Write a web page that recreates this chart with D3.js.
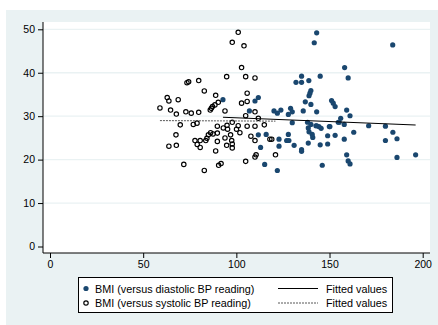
<!DOCTYPE html>
<html><head><meta charset="utf-8">
<script src="https://cdn.jsdelivr.net/npm/d3@7"></script>
<style>body{margin:0;background:#fff}svg{display:block}text{font-family:"Liberation Sans",Arial,sans-serif}</style>
</head><body>
<script>
// Systolic series (open circles)
const sysX = [59,62.9,63.8,64.7,68.8,67.8,69.9,67.6,63.8,67.8,73.5,74.4,79.8,82.8,72.9,75.8,79.8,76.9,78.9,77.8,80.6,79.0,80.6,83.6,84.2,85.0,86.2,87.5,86.0,86.6,87.2,88.9,90.3,88.5,89.8,89.8,89.8,88.9,71.8,82.8,90.5,91.8,93.9,94.8,97.8,101.0,104.1,102.8,105.0,110.0,105.8,102.8,105.8,110.0,105.0,111.8,97.8,101.0,105.8,110.0,115.0,93.0,95.3,100.1,101.9,96.9,97.5,93.9,107.8,110.0,118.0,119.0,94.8,97.8,97.8,121.0,110.0,110.6,105.0,95.0];
const sysY = [31.9,34.3,33.5,31.4,33.8,30.5,28.0,25.7,23.1,23.3,37.7,37.9,38.2,35.8,31.0,30.7,30.9,28.1,28.4,24.4,24.4,23.5,22.8,24.4,24.9,25.7,26.2,25.9,31.4,31.8,32.2,34.8,33.2,32.6,27.7,26.1,24.2,22.0,18.9,17.5,18.7,19.1,31.2,39.1,47.0,49.3,46.2,41.2,39.1,38.8,35.3,33.0,33.4,31.0,30.1,29.5,28.6,27.8,27.7,27.7,28.0,27.3,27.0,27.0,26.2,25.7,24.4,25.0,25.4,24.4,24.7,24.7,23.3,23.6,22.7,21.1,20.6,21.1,19.6,27.9];
// Diastolic series (filled)
const diaX = [92.8,110.0,111.8,107.0,120.2,122.0,123.9,127.9,129.1,130.0,132.0,135.0,135.0,138.9,145.0,139.0,139.5,140.0,137.0,140.0,135.9,143.1,151.1,152.0,153.0,158.1,160.0,141.8,143.1,183.9,159.2,161.0,156.0,154.7,157.9,143.1,144.3,145.5,149.9,171.0,180.0,184.0,163.0,153.0,149.0,157.9,180.0,186.2,130.0,111.8,116.0,122.9,127.9,127.0,128.2,113.0,122.9,131.0,135.0,135.0,145.0,149.0,159.2,160.0,161.0,186.2,196.2,146.1,115.2,122.0,138.2,138.6,139.0,141.0,138.6,140.0,142.7,140.7,150.2,155.2];
const diaY = [33.8,33.5,34.3,31.2,31.2,30.7,31.4,30.4,31.8,31.0,37.8,39.2,37.8,38.2,39.2,34.7,35.3,35.9,33.3,32.7,31.2,31.0,33.6,33.0,32.2,41.2,38.8,46.9,49.2,46.4,31.4,30.1,29.5,28.6,28.1,27.8,27.6,27.2,27.6,27.8,27.7,26.3,26.3,25.6,25.5,24.7,24.4,24.8,28.5,25.7,25.8,24.7,25.8,24.4,24.4,22.8,23.1,23.3,22.3,21.9,23.4,23.6,21.1,19.7,19.0,20.5,21.1,18.7,18.9,17.5,28.6,27.3,26.4,25.1,23.8,28.1,27.8,25.8,27.6,28.6];
// Fitted values (endpoints)
const fitDiaX = [92.8,196.2], fitDiaY = [29.74,27.97];
const fitSysX = [59,121], fitSysY = [28.98,28.86];
const yTicks = [0,10,20,30,40,50];
const xTicks = [0,50,100,150,200];
const legendLabels = ["BMI (versus diastolic BP reading)","BMI (versus systolic BP reading)","Fitted values","Fitted values"];

const W=438,H=325;
const svg=d3.select("body").append("svg").attr("width",W).attr("height",H);
svg.append("rect").attr("x",6).attr("y",10).attr("width",W-6).attr("height",H-10).attr("fill","#eaf2f3");
const P={l:43,t:22,r:430,b:253};
svg.append("rect").attr("x",P.l).attr("y",P.t).attr("width",P.r-P.l).attr("height",P.b-P.t).attr("fill","#fff");
const x=d3.scaleLinear().domain([0,200]).range([50,422.7]);
const y=d3.scaleLinear().domain([0,50]).range([246.5,29.3]);
const navy="#1a476f";
// grid
svg.append("g").selectAll("line").data(yTicks.filter(d=>d>0)).join("line")
 .attr("x1",P.l).attr("x2",P.r).attr("y1",d=>y(d)).attr("y2",d=>y(d))
 .attr("stroke","#eaf2f3").attr("stroke-width",1.3);
// axes
const ya=svg.append("g").attr("transform",`translate(${P.l},0)`)
 .call(d3.axisLeft(y).tickValues(yTicks).tickSize(5).tickPadding(3));
const xa=svg.append("g").attr("transform",`translate(0,${P.b})`)
 .call(d3.axisBottom(x).tickValues(xTicks).tickSize(5).tickPadding(3));
[ya,xa].forEach(a=>{a.select(".domain").remove();a.selectAll("text").attr("font-size",10.5).attr("fill","#000").attr("font-family","Liberation Sans, Arial, sans-serif");a.selectAll("line").attr("stroke","#000");});
svg.append("line").attr("x1",P.l).attr("x2",P.l).attr("y1",P.t).attr("y2",P.b).attr("stroke","#000");
svg.append("line").attr("x1",P.l).attr("x2",P.r).attr("y1",P.b).attr("y2",P.b).attr("stroke","#000");
// points
svg.append("g").selectAll("circle").data(diaX.map((d,i)=>[d,diaY[i]])).join("circle")
 .attr("cx",d=>x(d[0])).attr("cy",d=>y(d[1])).attr("r",2.6).attr("fill",navy);
svg.append("g").selectAll("circle").data(sysX.map((d,i)=>[d,sysY[i]])).join("circle")
 .attr("cx",d=>x(d[0])).attr("cy",d=>y(d[1])).attr("r",2.2).attr("fill","none").attr("stroke","#000").attr("stroke-width",1.15);
// fitted lines
const line=d3.line().x(d=>x(d[0])).y(d=>y(d[1]));
svg.append("path").attr("d",line(fitDiaX.map((d,i)=>[d,fitDiaY[i]]))).attr("stroke","#000").attr("stroke-width",1.1).attr("fill","none");
svg.append("path").attr("d",line(fitSysX.map((d,i)=>[d,fitSysY[i]]))).attr("stroke","#444").attr("stroke-width",0.9).attr("stroke-dasharray","2,1").attr("fill","none");
// legend
const L=svg.append("g");
L.append("rect").attr("x",78.5).attr("y",277.5).attr("width",314).attr("height",35).attr("fill","#fff").attr("stroke","#000");
const r1=289.5,r2=304;
L.append("circle").attr("cx",86).attr("cy",r1-1).attr("r",2.6).attr("fill",navy);
L.append("circle").attr("cx",86).attr("cy",r2-1).attr("r",2.2).attr("fill","none").attr("stroke","#000").attr("stroke-width",1.15);
L.append("line").attr("x1",278).attr("x2",318).attr("y1",r1-1).attr("y2",r1-1).attr("stroke","#000").attr("stroke-width",1.1);
L.append("line").attr("x1",278).attr("x2",318).attr("y1",r2-1).attr("y2",r2-1).attr("stroke","#444").attr("stroke-width",0.9).attr("stroke-dasharray","2,1");
[[95,r1,0],[95,r2,1],[326,r1,2],[326,r2,3]].forEach(([tx,ty,i])=>{
 L.append("text").attr("x",tx).attr("y",ty+3).attr("font-size",10.8).text(legendLabels[i]);
});
</script>
</body></html>
